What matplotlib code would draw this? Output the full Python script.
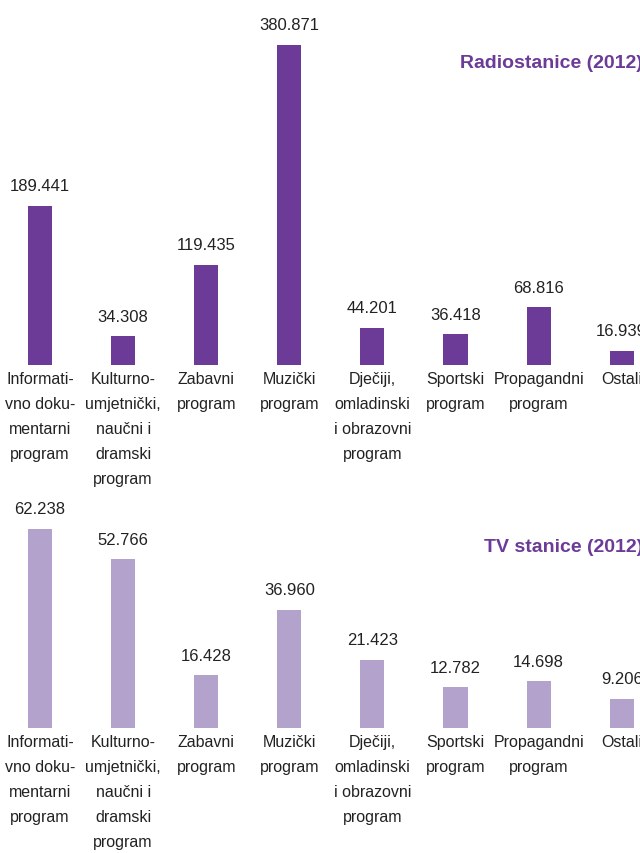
import matplotlib.pyplot as plt

# data
categories = [
    "Informati-\nvno doku-\nmentarni\nprogram",
    "Kulturno-\numjetnički,\nnaučni i\ndramski\nprogram",
    "Zabavni\nprogram",
    "Muzički\nprogram",
    "Dječiji,\nomladinski\ni obrazovni\nprogram",
    "Sportski\nprogram",
    "Propagandni\nprogram",
    "Ostali",
]
radio_values = [189.441, 34.308, 119.435, 380.871, 44.201, 36.418, 68.816, 16.939]
tv_values = [62.238, 52.766, 16.428, 36.960, 21.423, 12.782, 14.698, 9.206]
radio_title = "Radiostanice (2012)"
tv_title = "TV stanice (2012)"

DARK = "#6c3a97"
LIGHT = "#b3a3cc"
TEXT = "#222222"

plt.rcParams["font.family"] = ["Liberation Sans Narrow", "Liberation Sans", "DejaVu Sans"]


def fmt(v):
    return f"{v:.3f}"


def draw_panel(fig, bottom, height, values, color, title, title_y):
    ax = fig.add_axes([0, bottom, 1, height])
    x = list(range(len(values)))
    bars = ax.bar(x, values, width=0.29, color=color)
    ax.set_xlim(-0.481, 7.22)
    ax.set_ylim(0, max(values))
    ax.axis("off")

    # value labels above bars
    for bar, v in zip(bars, values):
        ax.annotate(
            fmt(v),
            xy=(bar.get_x() + bar.get_width() / 2, v),
            xytext=(0, 9),
            textcoords="offset points",
            ha="center",
            va="bottom",
            fontsize=12,
            color=TEXT,
            annotation_clip=False,
        )
    # category labels under the baseline
    for xi, name in zip(x, categories):
        ax.annotate(
            name,
            xy=(xi, 0),
            xytext=(0, -4),
            textcoords="offset points",
            ha="center",
            va="top",
            fontsize=11.5,
            color=TEXT,
            linespacing=1.85,
            annotation_clip=False,
        )
    fig.text(1.005, title_y, title, ha="right", va="center", fontsize=14,
             fontweight="bold", color=DARK)


fig = plt.figure(figsize=(6.4, 8.54), dpi=100)
draw_panel(fig, (854 - 366) / 854, 320 / 854, radio_values, DARK, radio_title, 1 - 63 / 854)
draw_panel(fig, (854 - 729) / 854, 199 / 854, tv_values, LIGHT, tv_title, 1 - 548 / 854)

fig.savefig("out.png", dpi=100)
